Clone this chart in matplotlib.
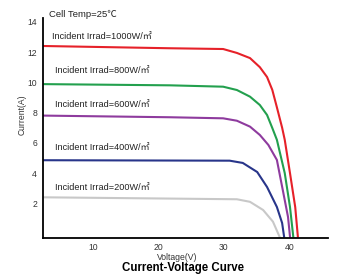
import matplotlib
matplotlib.use("Agg")
import matplotlib.pyplot as plt

plt.rcParams['font.family'] = ['Liberation Sans', 'Noto Sans CJK SC', 'DejaVu Sans']

# ─── DATA ─────────────────────────────────────────────────────────────────────
v_1000 = [2.4, 21.8, 29.9, 32.0, 34.0, 35.5, 36.6, 37.4, 38.1, 38.9, 39.3, 40.1, 40.9, 41.3]
i_1000 = [12.4, 12.25, 12.2, 11.94, 11.6, 11.0, 10.35, 9.5, 8.35, 7.0, 6.2, 4.0, 1.75, -0.2]

v_800 = [2.4, 21.8, 29.9, 32.0, 34.0, 35.5, 36.6, 37.4, 38.1, 39.3, 40.1, 40.6]
i_800 = [9.88, 9.8, 9.71, 9.49, 9.05, 8.5, 7.84, 6.98, 6.2, 4.0, 1.76, -0.2]

v_600 = [2.4, 21.8, 29.9, 32.0, 34.0, 35.5, 36.8, 38.1, 39.0, 39.8, 40.1]
i_600 = [7.8, 7.69, 7.62, 7.46, 7.07, 6.52, 5.86, 4.87, 2.88, 1.1, -0.2]

v_400 = [2.4, 30.9, 32.9, 35.1, 36.6, 38.1, 38.9, 39.2]
i_400 = [4.85, 4.82, 4.67, 4.07, 3.08, 1.76, 0.7, -0.2]

v_200 = [2.4, 32.0, 34.0, 36.0, 37.5, 38.5]
i_200 = [2.4, 2.27, 2.1, 1.56, 0.79, -0.2]

curves = [
    (v_1000, i_1000, "#e62129", "Incident Irrad=1000W/㎡", 3.8, 13.06),
    (v_800, i_800, "#23a04e", "Incident Irrad=800W/㎡", 4.25, 10.75),
    (v_600, i_600, "#8e3b9e", "Incident Irrad=600W/㎡", 4.25, 8.5),
    (v_400, i_400, "#28358a", "Incident Irrad=400W/㎡", 4.25, 5.66),
    (v_200, i_200, "#c8c8c8", "Incident Irrad=200W/㎡", 4.25, 3.08),
]

xticks = [10, 20, 30, 40]
yticks = [2, 4, 6, 8, 10, 12, 14]

# ─── PLOTTING ─────────────────────────────────────────────────────────────────
fig = plt.figure(figsize=(3.37, 2.76), dpi=100)
ax = fig.add_axes([0.1267, 0.1388, 0.8466, 0.7949])

for v, i, color, label, tx, ty in curves:
    ax.plot(v, i, color=color, lw=1.5, solid_joinstyle='round')
    ax.text(tx, ty, label, fontsize=6.6, color="#222222", va='center', ha='left')

ax.text(3.33, 14.5, "Cell Temp=25℃", fontsize=6.8, color="#222222",
        va='center', ha='left', clip_on=False)

ax.set_xlim(2.37, 45.9)
ax.set_ylim(-0.27, 14.23)
ax.set_xticks(xticks)
ax.set_yticks(yticks)
ax.tick_params(length=0, labelsize=6.2, colors="#333333", pad=4)

for side in ("top", "right"):
    ax.spines[side].set_visible(False)
for side in ("left", "bottom"):
    ax.spines[side].set_linewidth(1.3)
    ax.spines[side].set_color("black")

ax.set_ylabel("Current(A)", fontsize=6.2, color="#333333")
ax.yaxis.set_label_coords(-0.058, 0.56)
ax.set_xlabel("Voltage(V)", fontsize=6.2, color="#333333")
ax.xaxis.set_label_coords(0.47, -0.072)
fig.text(0.543, 0.029, "Current-Voltage Curve", fontsize=8.3, fontweight='bold',
         ha='center', va='center')

fig.savefig("out.png", dpi=100)
